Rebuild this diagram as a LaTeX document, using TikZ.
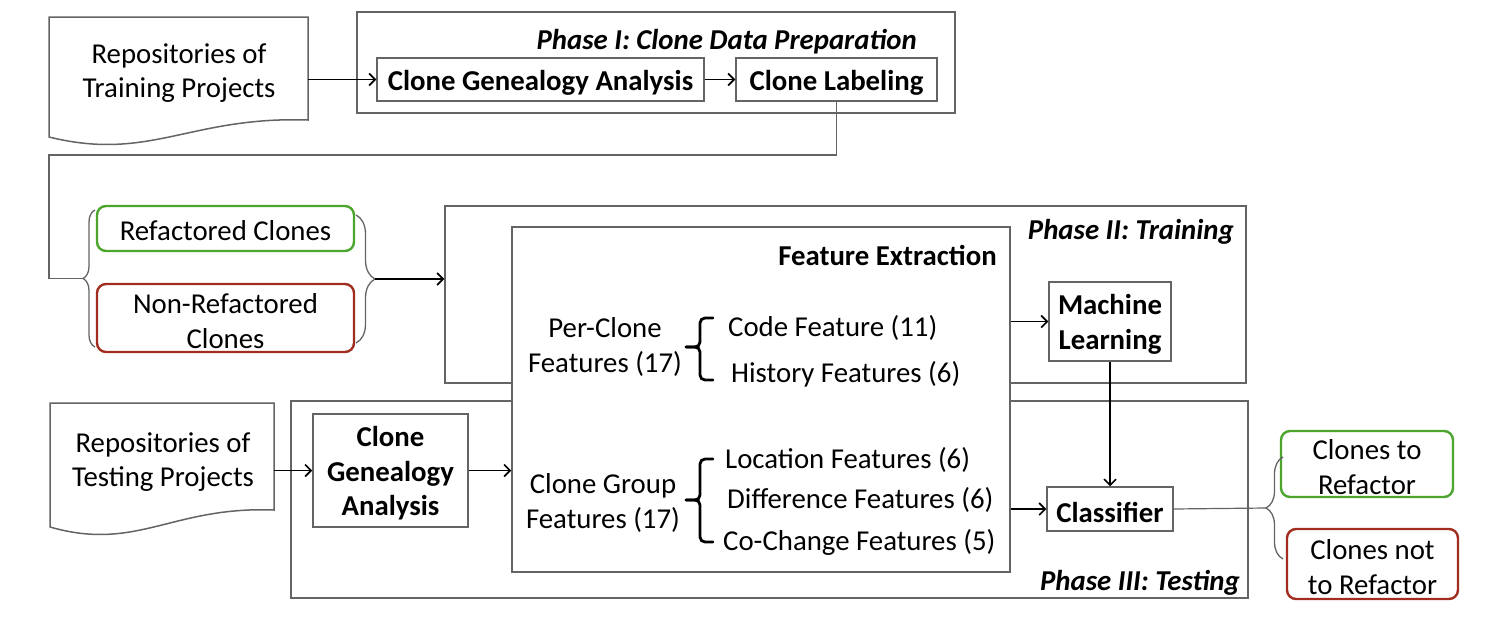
\documentclass[tikz,border=0pt]{standalone}
\usepackage{fontspec}
\setmainfont{Carlito}
\usetikzlibrary{arrows.meta,decorations.pathreplacing}
\definecolor{boxgray}{RGB}{100,100,100}
\definecolor{okgreen}{RGB}{76,165,45}
\definecolor{badred}{RGB}{160,45,30}
\newcommand{\myfs}{\fontsize{28.8}{34.5}\selectfont}
\begin{document}
\begin{tikzpicture}[x=1pt,y=-1pt,
  bx/.style={draw=boxgray, line width=1.5pt, fill=white, inner sep=0pt},
  btxt/.style={inner sep=0pt, align=center, font=\myfs\bfseries, yshift=-3pt},
  rtxt/.style={inner sep=0pt, align=center, font=\myfs, yshift=-3pt},
  phase/.style={draw=boxgray, line width=1.5pt, inner sep=0pt},
  plbl/.style={inner sep=0pt, font=\myfs\bfseries\itshape, yshift=-2.5pt},
  txt/.style={inner sep=0pt, align=center, font=\myfs, yshift=-2pt},
  good/.style={draw=okgreen, line width=2.4pt, rounded corners=9pt, fill=white, inner sep=0pt},
  bad/.style={draw=badred, line width=2.4pt, rounded corners=9pt, fill=white, inner sep=0pt},
  arr/.style={-{Straight Barb[length=6pt,width=12pt]}, line width=1.6pt, black},
  conn/.style={draw=boxgray, line width=1.5pt},
  gbrace/.style={draw=boxgray, line width=1.3pt, decorate},
  kbrace/.style={draw=black, line width=2.8pt, rounded corners=5pt, line cap=round},
  docshape/.style={draw=boxgray, line width=1.5pt, fill=white}
]
\useasboundingbox (0,0) rectangle (1502,616);

% ---------- Phase boxes (background) ----------
\node[phase, minimum width=598pt, minimum height=101pt] (ph1) at (656,62.5) {};
\node[plbl, anchor=east] (ph1lbl) at (917,39) {Phase I: Clone Data Preparation};

\node[phase, minimum width=801pt, minimum height=177pt] (ph2) at (845.5,294.5) {};
\node[plbl, anchor=east] (ph2lbl) at (1234,229) {Phase II: Training};

\node[phase, minimum width=957pt, minimum height=197pt] (ph3) at (769.5,499.5) {};
\node[plbl, anchor=east] (ph3lbl) at (1240,580) {Phase III: Testing};

% ---------- Training repositories ----------
\draw[docshape] (49,17) -- (308,17) -- (308,120)
  .. controls (190,116) and (150,162) .. (49,137) -- cycle;
\node[inner sep=0pt, minimum width=259pt, minimum height=103pt] (trainDoc) at (178.5,68.5) {};
\node[txt] (trainTxt) at (179,71) {Repositories of\\Training Projects};

% ---------- Phase I ----------
\node[bx, minimum width=327pt, minimum height=43pt, label={[btxt]center:Clone Genealogy Analysis}] (cga) at (540.5,79.5) {};
\node[bx, minimum width=201pt, minimum height=43pt, label={[btxt]center:Clone Labeling}] (cl) at (836.5,79.5) {};
\draw[arr] (trainDoc.east |- cga.west) -- (cga.west);
\draw[arr] (cga.east) -- (cl.west);

% ---------- Labeled clones ----------
\node[good, minimum width=257pt, minimum height=45pt, label={[rtxt, yshift=1pt]center:Refactored Clones}] (refC) at (225.5,228.5) {};
\node[bad, minimum width=257pt, minimum height=68pt, label={[rtxt]center:{Non-Refactored\\Clones}}] (nonRef) at (225.5,318) {};

\draw[gbrace, decoration={brace, amplitude=12pt}] (95,347) -- (95,210);
\coordinate (lbTip) at (83,278.5);
\draw[gbrace, decoration={brace, amplitude=19pt}] (356,215) -- (356,343);
\coordinate (rbTip) at (375,279);

\coordinate (bend1) at (49,155);
\draw[conn] (cl.south) |- (bend1) |- (lbTip);
\draw[arr] (rbTip) -- (ph2.west |- rbTip);

% ---------- Feature extraction ----------
\node[bx, minimum width=498pt, minimum height=345pt] (fe) at (761,399.5) {};
\node[plbl, font=\myfs\bfseries, anchor=east] (feLbl) at (997,253) {Feature Extraction};

\node[txt] (perClone) at (605,345) {Per-Clone\\Features (17)};
\draw[kbrace] (713,318) -- (700,318) -- (700,347) -- (686,347);
\draw[kbrace] (686,347) -- (700,347) -- (700,380) -- (713,380);
\node[txt, anchor=west] (codeF) at (728,326) {Code Feature (11)};
\node[txt, anchor=west] (histF) at (731,372) {History Features (6)};

\node[txt] (cGroup) at (603,501) {Clone Group\\Features (17)};
\draw[kbrace] (713,459) -- (700,459) -- (700,500) -- (686,500);
\draw[kbrace] (686,500) -- (700,500) -- (700,542) -- (713,542);
\node[txt, anchor=west] (locF) at (725,458) {Location Features (6)};
\node[txt, anchor=west] (diffF) at (727,498) {Difference Features (6)};
\node[txt, anchor=west] (coF) at (723,540) {Co-Change Features (5)};

% ---------- Machine learning & classifier ----------
\node[bx, minimum width=122pt, minimum height=79pt, label={[btxt]center:{Machine\\Learning}}] (ml) at (1110,321.5) {};
\node[bx, minimum width=126pt, minimum height=44pt, label={[btxt]center:Classifier}] (cls) at (1110,509) {};
\draw[arr] (fe.east |- ml.west) -- (ml.west);
\draw[arr] (ml.south) -- (cls.north);
\draw[arr] (fe.east |- cls.west) -- (cls.west);

% ---------- Testing repositories ----------
\draw[docshape] (50,403) -- (274,403) -- (274,510)
  .. controls (172,506) and (137,552) .. (50,527) -- cycle;
\node[inner sep=0pt, minimum width=224pt, minimum height=107pt] (testDoc) at (162,456.5) {};
\node[txt] (testTxt) at (163,460) {Repositories of\\Testing Projects};

\node[bx, minimum width=155pt, minimum height=113pt, label={[btxt]center:{Clone\\Genealogy\\Analysis}}] (cga2) at (390.5,470.5) {};
\draw[arr] (testDoc.east |- cga2.west) -- (cga2.west);
\draw[arr] (cga2.east) -- (fe.west |- cga2.east);

% ---------- Outputs ----------
\node[good, minimum width=172pt, minimum height=66pt, label={[rtxt]center:{Clones to\\Refactor}}] (toRef) at (1367,464) {};
\node[bad, minimum width=171pt, minimum height=70pt, label={[rtxt]center:{Clones not\\to Refactor}}] (notRef) at (1372.5,564) {};
\draw[gbrace, decoration={brace, amplitude=17pt}] (1283,559) -- (1283,457);
\coordinate (obTip) at (1266,508);
\draw[conn, line width=1.2pt] (cls.east) -- (obTip);
\end{tikzpicture}
\end{document}
